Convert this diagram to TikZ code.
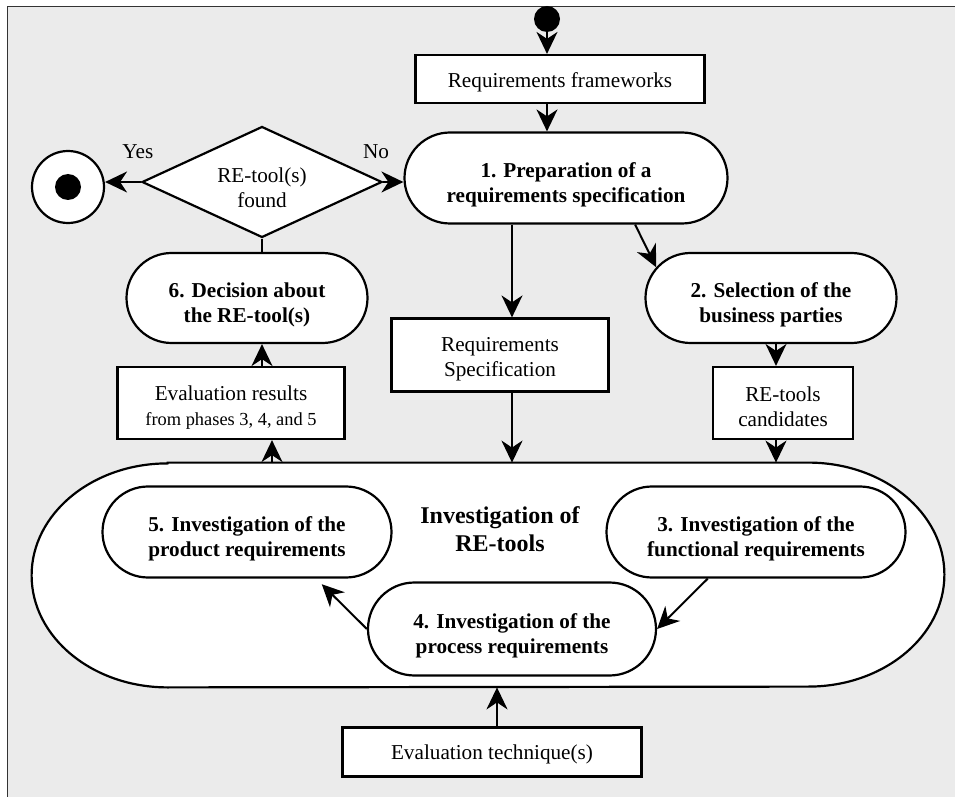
\documentclass[tikz,border=0pt]{standalone}
\usepackage{fontspec}
\setmainfont{Liberation Serif}
\usetikzlibrary{arrows.meta, shapes.geometric, shapes.misc}

\newcommand\bodysize{\fontsize{10.6}{12.5}\selectfont}

\tikzset{
  phase/.style={draw, line width=1.1pt, fill=white, rounded rectangle, inner sep=0pt, align=center, text height=26.8pt, font=\bodysize\bfseries},
  artefact/.style={draw, line width=1.1pt, fill=white, rectangle, inner sep=0pt, align=center, text height=24pt, font=\bodysize},
  flow/.style={line width=1pt, -{Stealth[length=11pt, width=10.5pt, inset=3.5pt]}},
}

\begin{document}
\begin{tikzpicture}[x=0.5pt, y=-0.5pt]
\useasboundingbox (0,0) rectangle (955,797);
\fill[black!8] (7,7) rectangle (955,797);
\draw[black!80, line width=0.5pt] (7,797) -- (7,7) -- (955,7);

% Investigation of RE-tools
\node[minimum width=456pt, minimum height=112pt, inner sep=0pt] (inv) at (488,575) {};
\draw[line width=1.1pt, fill=white] ([xshift=68pt]inv.north west) -- ([xshift=-68pt]inv.north east)
  arc[start angle=-90, end angle=90, x radius=136, y radius=112] -- ([xshift=68pt]inv.south west)
  arc[start angle=90, end angle=270, x radius=136, y radius=112] -- cycle;
\node[font=\fontsize{12}{14}\selectfont\bfseries, align=center] (invt) at (500,529) {Investigation of\\RE-tools};

\node[fill, circle, minimum size=13pt, inner sep=0pt] (st) at (547,19) {};
\node[artefact, text height=11pt, minimum width=144.5pt, minimum height=24pt] (rf) at (560,79) {Requirements frameworks};
\node[phase, minimum width=161.5pt, minimum height=45.5pt] (n1) at (566,178) {1. Preparation of a\\requirements specification};
\node[diamond, aspect=2.2, draw, line width=1.1pt, fill=white, minimum width=120pt, minimum height=55.5pt, inner sep=0pt, align=center, text height=26pt, font=\bodysize] (dm) at (262,182) {RE-tool(s)\\found};
\node[circle, draw, line width=1.1pt, fill=white, minimum size=36pt] (fin) at (68,187) {};
\node[circle, fill, minimum size=13pt, inner sep=0pt] (findot) at (fin) {};
\node[phase, minimum width=120.5pt, minimum height=45pt] (n6) at (247,298) {6. Decision about\\the RE-tool(s)};
\node[artefact, minimum width=113.5pt, minimum height=36pt] (er) at (231,403) {Evaluation results\\{\fontsize{9.2}{11}\selectfont from phases 3, 4, and 5}};
\node[artefact, minimum width=108.5pt, minimum height=36.5pt] (rs) at (500,355) {Requirements\\Specification};
\node[phase, minimum width=125.5pt, minimum height=45pt] (n2) at (771,298) {2. Selection of the\\business parties};
\node[artefact, minimum width=70pt, minimum height=36pt] (rc) at (783,403) {RE-tools\\candidates};
\node[phase, minimum width=144.5pt, minimum height=45.5pt] (n5) at (247,532) {5. Investigation of the\\product requirements};
\node[phase, minimum width=149.5pt, minimum height=45.5pt] (n3) at (756,532) {3. Investigation of the\\functional requirements};
\node[phase, minimum width=144pt, minimum height=46.5pt] (n4) at (512,629) {4. Investigation of the\\process requirements};
\node[artefact, text height=9.5pt, minimum width=149.5pt, minimum height=24.5pt] (et) at (492,752) {Evaluation technique(s)};

\draw[flow] (st) -- (st |- rf.north);
\draw[flow] (st |- rf.south) -- (st |- n1.north);
\draw[flow] (dm.east) -- node[pos=0, above=8pt, xshift=-3.5pt, font=\bodysize] {No} (dm.east -| n1.west);
\draw[flow] (dm.west) -- node[pos=0, above=8pt, xshift=-1.5pt, font=\bodysize] {Yes} (dm.west -| fin.east);
\draw[line width=1pt] (dm.south) -- (dm.south |- n6.north);
\draw[flow] (dm.south |- er.north) -- (dm.south |- n6.south);
\draw[flow] ([xshift=5pt]dm.south |- inv.north) -- ([xshift=5pt]dm.south |- er.south);
\draw[flow] ([xshift=6pt]rs.north |- n1.south) -- ([xshift=6pt]rs.north);
\draw[flow] ([xshift=6pt]rs.south) -- ([xshift=6pt]rs.south |- inv.north);
\draw[flow] (n1.-34) -- (n2.165);
\draw[flow] ([xshift=2.5pt]n2.south) -- ([xshift=2.5pt]n2.south |- rc.north);
\draw[flow] ([xshift=2.5pt]n2.south |- rc.south) -- ([xshift=2.5pt]n2.south |- inv.north);
\draw[flow] (n3.-136) -- (n4.east);
\draw[flow, shorten >=4pt] (n4.west) -- (n5.-34);
\draw[flow] ([xshift=2.5pt]et.north) -- ([xshift=2.5pt]et.north |- inv.south);
\end{tikzpicture}
\end{document}
